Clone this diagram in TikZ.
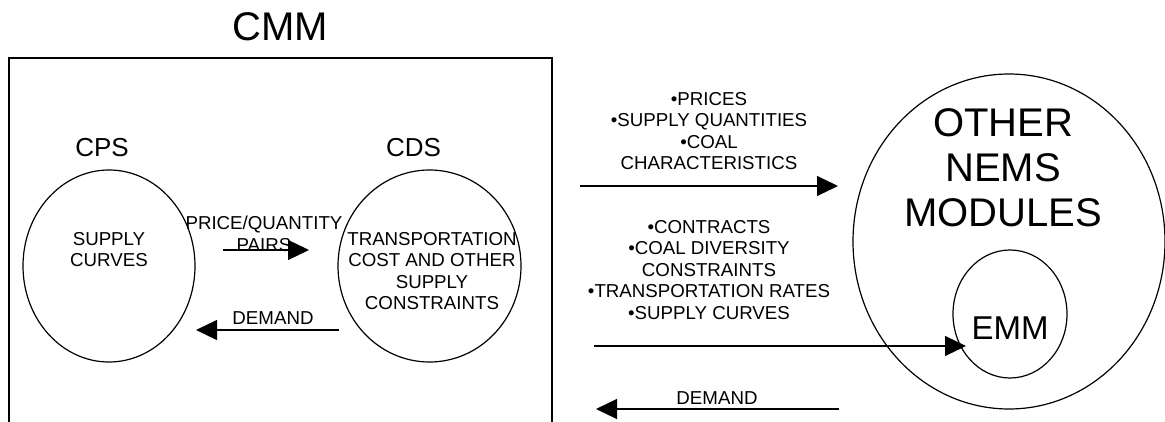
\documentclass[tikz,border=0pt]{standalone}
\usepackage{fontspec}
\setmainfont{Liberation Sans}
\usepackage{tikz}
\usetikzlibrary{arrows.meta,shapes.geometric}

\newcommand{\smalltxt}{\fontsize{18.7}{21.5}\selectfont}
\newcommand{\bigtxt}{\fontsize{40}{45}\selectfont}

\begin{document}
\begin{tikzpicture}[x=1pt,y=-1pt,line width=1.2pt,
  blob/.style={draw,ellipse,inner sep=0pt},
  lbl/.style={inner sep=0pt,align=center,font=\smalltxt},
  flow/.style={-{Triangle[length=21pt,width=20pt]}}]
\useasboundingbox (0,0) rectangle (1165,422);

% Coal market module frame
\node[inner sep=0pt,font=\bigtxt] (cmm) at (280,27) {CMM};
\draw (9,422) |- (552,58) -- (552,422);

% Submodules inside the frame
\node[blob,minimum width=172pt,minimum height=192pt] (cps) at (109,266) {};
\node[blob,minimum width=183pt,minimum height=192pt] (cds) at (429.5,266) {};
\node[inner sep=0pt,font=\fontsize{26}{30}\selectfont] (cpslbl) at (102,148) {CPS};
\node[inner sep=0pt,font=\fontsize{26}{30}\selectfont] (cdslbl) at (413.5,148) {CDS};
\node[lbl] (curves) at (109,249.5) {SUPPLY\\CURVES};
\node[lbl] (transp) at (432,271) {TRANSPORTATION\\COST AND OTHER\\SUPPLY\\CONSTRAINTS};

% Flows between CPS and CDS
\coordinate (pq0) at (223,250);
\coordinate (pq1) at (309,250);
\coordinate (dm0) at (339,330);
\coordinate (dm1) at (196,330);
\draw[flow] (pq0) -- (pq1);
\draw[flow] (dm0) -- (dm1);
\node[lbl] (pqlbl) at (264,234) {PRICE/QUANTITY\\PAIRS};
\node[lbl] (dmlbl) at (273,318) {DEMAND};

% Other NEMS modules
\node[blob,minimum width=312pt,minimum height=335pt] (nems) at (1009,241.5) {};
\node[blob,minimum width=114pt,minimum height=128pt] (emm) at (1010,314) {};
\node[inner sep=0pt,align=center,font=\bigtxt] (nemslbl) at (1003,168) {OTHER\\NEMS\\MODULES};
\node[inner sep=0pt,font=\fontsize{33}{38}\selectfont] (emmlbl) at (1010,328) {EMM};

% Flows to and from the other modules
\coordinate (out0) at (580,186);
\coordinate (out1) at (838,186);
\coordinate (in0) at (594,346);
\coordinate (in1) at (966,346);
\coordinate (back0) at (839,409);
\coordinate (back1) at (596,409);
\draw[flow] (out0) -- (out1);
\draw[flow] (in0) -- (in1);
\draw[flow] (back0) -- (back1);
\node[lbl] (outlbl) at (709,131) {•PRICES\\•SUPPLY QUANTITIES\\•COAL\\CHARACTERISTICS};
\node[lbl] (inlbl) at (709,270) {•CONTRACTS\\•COAL DIVERSITY\\CONSTRAINTS\\•TRANSPORTATION RATES\\•SUPPLY CURVES};
\node[lbl] (backlbl) at (717,398) {DEMAND};
\end{tikzpicture}
\end{document}
